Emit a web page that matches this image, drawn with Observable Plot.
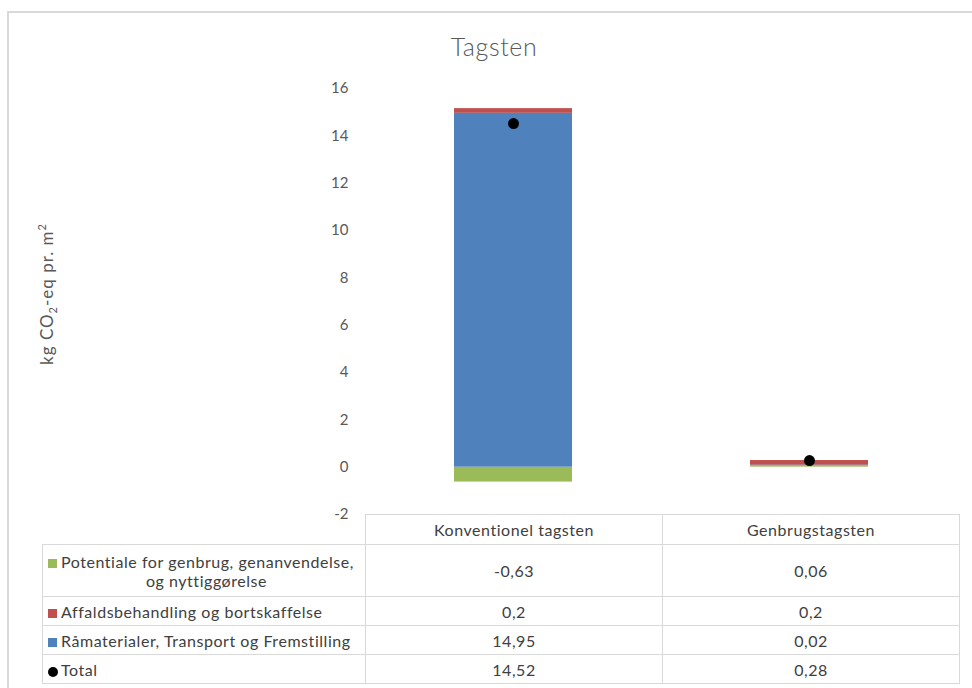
<!DOCTYPE html>
<html>
<head>
<meta charset="utf-8">
<script src="https://cdn.jsdelivr.net/npm/d3@7"></script>
<script src="https://cdn.jsdelivr.net/npm/@observablehq/plot@0.6"></script>
<style>
  html, body { margin: 0; padding: 0; background: #fff; }
  body { width: 972px; height: 688px; position: relative; overflow: hidden; font-family: Lato, "Open Sans", sans-serif; color: #595959; }
  #frame { position: absolute; left: 7px; top: 11px; width: 1000px; height: 700px; border: 2px solid #d9d9d9; box-sizing: border-box; }
  #title { position: absolute; left: 394px; width: 200px; top: 31px; text-align: center; font-size: 25px; font-weight: 300; letter-spacing: 0.6px; color: #595959; }
  #chart { position: absolute; left: 0; top: 0; }
  #ylabel { position: absolute; left: 47px; top: 294px; transform: translate(-50%, -50%) rotate(-90deg); white-space: nowrap; font-size: 17px; letter-spacing: 1px; color: #595959; }
  #ylabel sub, #ylabel sup { font-size: 11px; }
  #table { position: absolute; left: 42px; top: 514px; border-collapse: collapse; table-layout: fixed; width: 917px; font-size: 16px; letter-spacing: 0.55px; color: #404040; }
  #table td { border: 1px solid #d9d9d9; padding: 0; overflow: hidden; white-space: nowrap; }
  #table td.blank { border-top: none; border-left: none; border-bottom: 1px solid #d9d9d9; }
  #table td.val { text-align: center; }
  #table td.lab { padding-left: 5px; }
  .sw { display: inline-block; width: 9px; height: 9px; margin-right: 4px; vertical-align: 0px; }
  .dotsw { display: inline-block; width: 10px; height: 10px; border-radius: 50%; background: #000; margin-right: 3px; vertical-align: -1px; }
</style>
</head>
<body>
<div id="frame"></div>
<div id="title"></div>
<div id="chart"></div>
<div id="ylabel">kg CO<sub>2</sub>-eq pr. m<sup>2</sup></div>
<table id="table"><colgroup><col style="width:323px"><col style="width:297px"><col style="width:297px"></colgroup><tbody id="tbody"></tbody></table>
<script>
// ---- data ----
const chartTitle = "Tagsten";
const categories = ["Konventionel tagsten", "Genbrugstagsten"];
const seriesNames = [
  "Potentiale for genbrug, genanvendelse,\nog nyttiggørelse",
  "Affaldsbehandling og bortskaffelse",
  "Råmaterialer, Transport og Fremstilling"
];
const seriesColors = ["#9bbb59", "#c0504d", "#4f81bd"];
const potentialeValues = [-0.63, 0.06];
const affaldValues = [0.2, 0.2];
const raamaterialerValues = [14.95, 0.02];
const totalName = "Total";
const totalValues = [14.52, 0.28];
const yTicks = [-2, 0, 2, 4, 6, 8, 10, 12, 14, 16];
// stacking order seen in the bars (bottom to top)
const stackOrder = [seriesNames[0], seriesNames[2], seriesNames[1]];

const seriesValues = [potentialeValues, affaldValues, raamaterialerValues];
const rows = [];
seriesNames.forEach((s, i) => categories.forEach((c, j) => rows.push({series: s, category: c, value: seriesValues[i][j]})));
const totals = categories.map((c, j) => ({category: c, value: totalValues[j]}));

document.getElementById("title").textContent = chartTitle;

const plot = Plot.plot({
  width: 972,
  height: 540,
  marginTop: 88,
  marginBottom: 26,
  marginLeft: 365,
  marginRight: 14,
  style: {fontFamily: "Lato, 'Open Sans', sans-serif", fontSize: "15px", color: "#595959", background: "transparent"},
  x: {domain: categories, paddingInner: 0.6, paddingOuter: 0.3, axis: null},
  y: {domain: [-2, 16], axis: null},
  color: {domain: seriesNames, range: seriesColors},
  marks: [
    Plot.gridY(yTicks, {stroke: "#d9d9d9", strokeOpacity: 1, x1: 363, x2: 958}),
    Plot.axisY(yTicks, {tickSize: 0, tickPadding: 17, label: null, tickFormat: d => String(d), fill: "#595959", fontSize: 15}),
    Plot.barY(rows, {x: "category", y: "value", fill: "series", order: stackOrder}),
    Plot.dot(totals, {x: "category", y: "value", r: 5.5, fill: "#000"})
  ]
});
document.getElementById("chart").appendChild(plot);

// ---- data table ----
const fmt = v => String(v).replace(".", ",");
const tbody = document.getElementById("tbody");
let html = "<tr style='height:30px'><td class='blank'></td>" + categories.map(c => `<td class='val'>${c}</td>`).join("") + "</tr>";
seriesNames.forEach((s, i) => {
  const lines = s.split("\n");
  const h = lines.length > 1 ? 52 : 29;
  let lab = `<div><span class='sw' style='background:${seriesColors[i]}'></span>${lines[0]}</div>`;
  for (let k = 1; k < lines.length; k++) lab += `<div style='text-align:center'>${lines[k]}</div>`;
  html += `<tr style='height:${h}px'><td class='lab'>${lab}</td>` + seriesValues[i].map(v => `<td class='val'>${fmt(v)}</td>`).join("") + "</tr>";
});
html += `<tr style='height:29px'><td class='lab'><span class='dotsw'></span>${totalName}</td>` + totalValues.map(v => `<td class='val'>${fmt(v)}</td>`).join("") + "</tr>";
tbody.innerHTML = html;
</script>
</body>
</html>
